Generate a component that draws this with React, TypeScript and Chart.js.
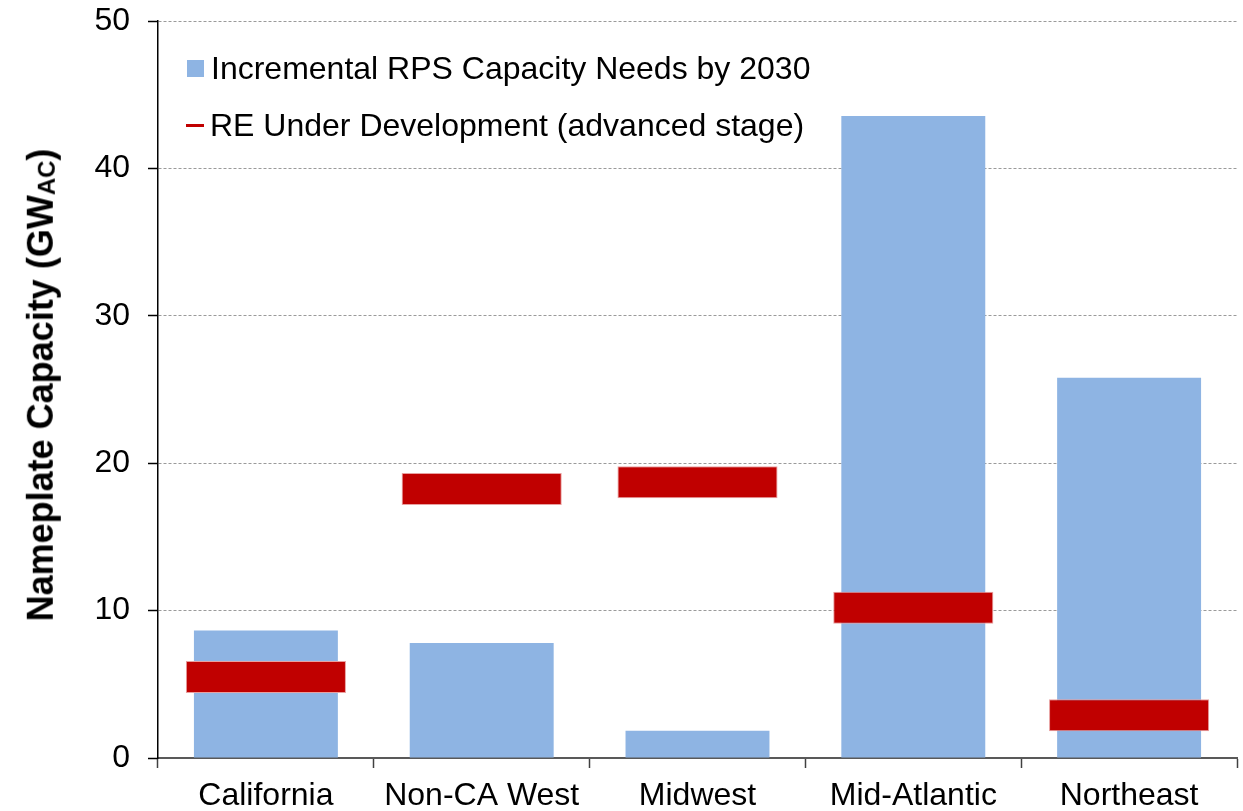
import React, { useEffect, useRef } from "react";
import { Chart, registerables } from "chart.js";

Chart.register(...registerables);

const categories = ["California", "Non-CA West", "Midwest", "Mid-Atlantic", "Northeast"];
const rpsNeeds = [8.65, 7.8, 1.85, 43.55, 25.8];
const reUnderDevelopment = [5.5, 18.25, 18.7, 10.2, 2.9];
const yTicks = [0, 10, 20, 30, 40, 50];
const legendLabels = ["Incremental RPS Capacity Needs by 2030", "RE Under Development (advanced stage)"];

const BLUE = "#8EB4E3";
const RED = "#C00000";
const FONT = "'Liberation Sans', Arial, Helvetica, sans-serif";
const HALF_THICK = 1.085;

export default function App() {
  const canvasRef = useRef<HTMLCanvasElement | null>(null);

  useEffect(() => {
    document.body.style.margin = "0";
    const canvas = canvasRef.current;
    if (!canvas) return;
    const chart = new Chart(canvas, {
      type: "bar",
      data: {
        labels: categories,
        datasets: [
          {
            label: legendLabels[1],
            data: reUnderDevelopment.map((v) => [v - HALF_THICK, v + HALF_THICK]) as any,
            backgroundColor: RED,
            borderColor: "#E8A0A0",
            borderWidth: 1,
            borderSkipped: false,
            grouped: false,
            categoryPercentage: 1,
            barPercentage: 0.742,
            order: 1,
          },
          {
            label: legendLabels[0],
            data: rpsNeeds,
            backgroundColor: BLUE,
            borderWidth: 0,
            grouped: false,
            categoryPercentage: 1,
            barPercentage: 0.667,
            order: 2,
          },
        ],
      },
      options: {
        animation: false,
        responsive: false,
        maintainAspectRatio: false,
        layout: { padding: { top: 21, right: 6, left: 0, bottom: 0 } },
        plugins: {
          legend: { display: false },
          tooltip: { enabled: false },
          title: { display: false },
        },
        scales: {
          x: {
            type: "category",
            offset: true,
            grid: {
              offset: true,
              drawOnChartArea: false,
              drawTicks: true,
              tickLength: 10,
              tickColor: "#404040",
              tickWidth: 1.5,
            },
            border: { display: true, color: "#595959", width: 2 },
            ticks: {
              color: "#000",
              font: { family: FONT, size: 32 },
              padding: 9,
              maxRotation: 0,
              autoSkip: false,
            },
            afterFit: (scale: any) => {
              scale.height = 53;
              scale.paddingLeft = 0;
              scale.paddingRight = 0;
            },
          },
          y: {
            min: 0,
            max: 50,
            afterBuildTicks: (scale: any) => {
              scale.ticks = yTicks.map((v) => ({ value: v }));
            },
            grid: {
              color: (ctx: any) => (ctx.tick && ctx.tick.value === 0 ? "rgba(0,0,0,0)" : "#9a9a9a"),
              lineWidth: 1,
              drawTicks: true,
              tickLength: 10,
              tickColor: "#000",
              tickWidth: 1.5,
              tickBorderDash: [],
            } as any,
            border: { display: true, color: "#000", width: 1.5, dash: [3, 2] } as any,
            ticks: {
              color: "#000",
              font: { family: FONT, size: 32 },
              padding: 18,
            },
            afterFit: (scale: any) => {
              scale.width = 158;
              scale.paddingTop = 0;
              scale.paddingBottom = 0;
            },
          },
        },
      },
    });
    return () => chart.destroy();
  }, []);

  return (
    <div style={{ position: "relative", width: 1243, height: 811, background: "#fff", fontFamily: FONT }}>
      <canvas ref={canvasRef} width={1243} height={811} style={{ display: "block", width: 1243, height: 811 }} />
      <div
        style={{
          position: "absolute",
          left: 41,
          top: 385,
          transform: "translate(-50%, -50%) rotate(-90deg)",
          whiteSpace: "nowrap",
          fontWeight: "bold",
          fontSize: 36,
          color: "#000",
          lineHeight: 1,
        }}
      >
        Nameplate Capacity (GW<sub style={{ fontSize: 24, verticalAlign: "-0.1em" }}>AC</sub>)
      </div>
      <div style={{ position: "absolute", left: 186, top: 48, fontSize: 32, color: "#000", lineHeight: "40px" }}>
        <div style={{ display: "flex", alignItems: "center", height: 40 }}>
          <span style={{ display: "inline-block", width: 17, height: 17, background: BLUE, marginRight: 7, marginLeft: 1 }} />
          <span>{legendLabels[0]}</span>
        </div>
        <div style={{ display: "flex", alignItems: "center", height: 40, marginTop: 17 }}>
          <span style={{ display: "inline-block", width: 18, height: 3, background: RED, marginRight: 6 }} />
          <span>{legendLabels[1]}</span>
        </div>
      </div>
    </div>
  );
}
